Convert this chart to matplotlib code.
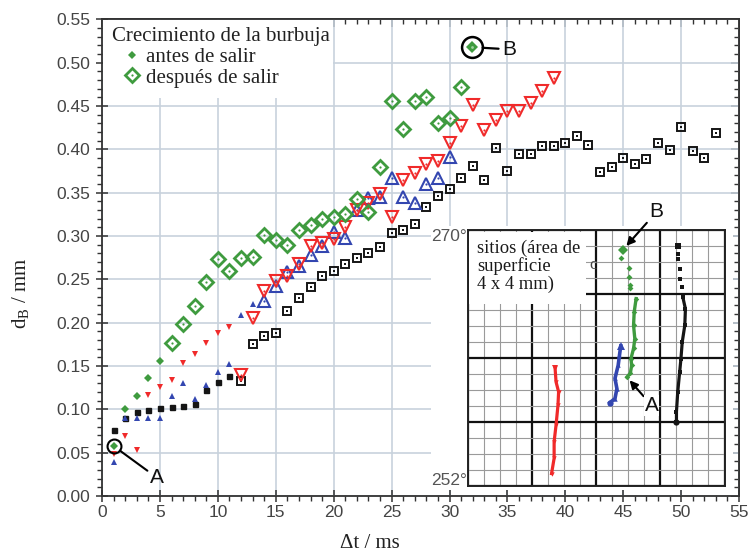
import matplotlib
matplotlib.use('Agg')
import matplotlib.pyplot as plt
from matplotlib.lines import Line2D
from matplotlib.patches import Rectangle
from matplotlib.ticker import MultipleLocator, NullFormatter, FormatStrFormatter

# ---------------- data (main plot) ----------------
t_black_before = [1, 2, 3, 4, 5, 6, 7, 8, 9, 10, 11]
d_black_before = [0.076, 0.090, 0.097, 0.099, 0.101, 0.1025, 0.104, 0.106, 0.122, 0.131, 0.139]
t_black_after = list(range(12, 54))
d_black_after = [0.133, 0.175, 0.185, 0.188, 0.214, 0.229, 0.241, 0.254, 0.260, 0.268,
                 0.2745, 0.280, 0.287, 0.303, 0.3065, 0.314, 0.333, 0.346, 0.354, 0.367,
                 0.381, 0.365, 0.402, 0.375, 0.395, 0.395, 0.404, 0.404, 0.407, 0.4155,
                 0.405, 0.374, 0.380, 0.390, 0.383, 0.3886, 0.407, 0.399, 0.426, 0.398,
                 0.3905, 0.4186]

t_blue_before = [1, 2, 3, 4, 5, 6, 7, 8, 9, 10, 11, 12, 13]
d_blue_before = [0.039, 0.090, 0.090, 0.090, 0.090, 0.115, 0.130, 0.1125, 0.128, 0.143,
                 0.1525, 0.209, 0.221]
t_blue_after = list(range(14, 31))
d_blue_after = [0.2247, 0.242, 0.259, 0.265, 0.2776, 0.288, 0.305, 0.2976, 0.330, 0.3437,
                0.3456, 0.3667, 0.3456, 0.3387, 0.360, 0.3667, 0.3917]

t_red_before = [1, 2, 3, 4, 5, 6, 7, 8, 9, 10, 11]
d_red_before = [0.048, 0.069, 0.0526, 0.117, 0.1256, 0.134, 0.154, 0.164, 0.176, 0.188, 0.195]
t_red_after = list(range(12, 40))
d_red_after = [0.140, 0.2054, 0.236, 0.2485, 0.2535, 0.2677, 0.289, 0.2918, 0.297, 0.310,
               0.330, 0.3387, 0.349, 0.3214, 0.365, 0.3725, 0.383, 0.3867, 0.407, 0.427,
               0.451, 0.422, 0.434, 0.444, 0.4447, 0.4535, 0.4677, 0.482]

t_green_before = [1, 2, 3, 4, 5]
d_green_before = [0.0576, 0.1006, 0.115, 0.1356, 0.156]
t_green_after = list(range(6, 32))
d_green_after = [0.177, 0.199, 0.219, 0.2465, 0.2734, 0.260, 0.2745, 0.276, 0.3015, 0.2957,
                 0.290, 0.307, 0.313, 0.3195, 0.3214, 0.325, 0.343, 0.328, 0.380, 0.456,
                 0.424, 0.456, 0.460, 0.430, 0.4366, 0.4724]
t_point_B = [31.9]
d_point_B = [0.518]

x_ticks = [0, 5, 10, 15, 20, 25, 30, 35, 40, 45, 50, 55]
y_ticks = [0.00, 0.05, 0.10, 0.15, 0.20, 0.25, 0.30, 0.35, 0.40, 0.45, 0.50, 0.55]

legend_title = 'Crecimiento de la burbuja'
legend_labels = ['antes de salir', 'después de salir']

# ---------------- data (inset: sites, 4 x 4 mm) ----------------
red_x = [1.30, 1.34, 1.34, 1.37, 1.40, 1.41, 1.37, 1.355]
red_y = [0.19, 0.43, 0.69, 0.95, 1.26, 1.47, 1.625, 1.84]
blue_x = [2.21, 2.29, 2.32, 2.29, 2.34, 2.36, 2.38]
blue_y = [1.30, 1.365, 1.52, 1.68, 1.885, 2.04, 2.19]
green_x = [2.475, 2.53, 2.55, 2.54, 2.58, 2.60, 2.58, 2.59, 2.62]
green_y = [1.70, 1.76, 1.885, 1.99, 2.15, 2.30, 2.51, 2.72, 2.93]
green_sparse_x = [2.52, 2.52, 2.51, 2.51, 2.39]
green_sparse_y = [3.09, 3.15, 3.27, 3.41, 3.56]
green_B_x = [2.41]
green_B_y = [3.69]
black_x = [3.25, 3.25, 3.27, 3.30, 3.32, 3.34, 3.38, 3.39, 3.35]
black_y = [0.99, 1.16, 1.47, 1.78, 1.99, 2.25, 2.51, 2.77, 2.95]
black_sparse_x = [3.34, 3.31, 3.30, 3.28, 3.28]
black_sparse_y = [3.11, 3.24, 3.40, 3.55, 3.63]
black_top_x = [3.28]
black_top_y = [3.76]
inset_text = 'sitios (área de\nsuperficie\n4 x 4 mm)'

# ---------------- style ----------------
GREEN = '#3f9b3f'
RED = '#f02a2a'
BLUE = '#3346b0'
BLACK = '#151515'
SERIF = 'Liberation Serif'
SANS = 'Liberation Sans'

plt.rcParams['font.family'] = [SANS, 'DejaVu Sans']

W, H = 752, 557
fig = plt.figure(figsize=(W / 100, H / 100), dpi=100)


def fx(px):
    return px / W


def fy(py):
    return 1 - py / H


ax = fig.add_axes([fx(102.1), fy(496), (739 - 102.1) / W, (496 - 19.4) / H])
ax.set_xlim(0, 55)
ax.set_ylim(0, 0.55)
ax.set_xticks(x_ticks)
ax.set_yticks(y_ticks)
ax.yaxis.set_major_formatter(FormatStrFormatter('%.2f'))
ax.xaxis.set_minor_locator(MultipleLocator(1))
ax.yaxis.set_minor_locator(MultipleLocator(0.01))
ax.set_axisbelow(True)
ax.grid(True, which='major', color='#c8d2dd', lw=1.2)
ax.tick_params(which='major', direction='inout', length=8, width=1.1, color='#333333',
               labelsize=12.5, labelcolor='#444444')
ax.tick_params(axis='x', which='major', pad=2.5)
ax.tick_params(axis='y', which='major', pad=4.5)
ax.tick_params(which='minor', direction='out', length=3.5, width=1.0, color='#333333')
for s in ax.spines.values():
    s.set_color('#333333')
    s.set_linewidth(1.3)

# inward ticks on top / right
sx = ax.secondary_xaxis('top')
sx.set_xticks(x_ticks)
sx.xaxis.set_minor_locator(MultipleLocator(1))
sx.xaxis.set_major_formatter(NullFormatter())
sx.tick_params(which='major', direction='in', length=6, width=1.1, color='#333333')
sx.tick_params(which='minor', direction='in', length=3.5, width=1.0, color='#333333')
sx.spines['top'].set_color('#333333')
sx.spines['top'].set_linewidth(1.3)
sy = ax.secondary_yaxis('right')
sy.set_yticks(y_ticks)
sy.yaxis.set_minor_locator(MultipleLocator(0.01))
sy.yaxis.set_major_formatter(NullFormatter())
sy.tick_params(which='major', direction='in', length=6, width=1.1, color='#333333')
sy.tick_params(which='minor', direction='in', length=3.5, width=1.0, color='#333333')
sy.spines['right'].set_color('#333333')
sy.spines['right'].set_linewidth(1.3)

# white patch behind inset labels and behind legend
ax.add_patch(Rectangle((fx(431), fy(490)), (733 - 431) / W, (490 - 226) / H,
                       transform=fig.transFigure, fc='white', ec='none', zorder=1))
ax.add_patch(Rectangle((fx(103), fy(98)), (333 - 103) / W, (98 - 20.5) / H,
                       transform=fig.transFigure, fc='white', ec='none', zorder=1))


def open_series(t, d, marker, color, ms, mew):
    ax.plot(t, d, ls='none', marker=marker, ms=ms, mfc='none', mec=color, mew=mew, zorder=3)
    ax.plot(t, d, ls='none', marker='s' if marker == 's' else 'o', ms=1.6, mfc=color,
            mec=color, mew=0, zorder=3)


# black squares
ax.plot(t_black_before, d_black_before, ls='none', marker='s', ms=3.6, color=BLACK, zorder=3)
open_series(t_black_after, d_black_after, 's', BLACK, 5.4, 1.4)
# blue up-triangles
ax.plot(t_blue_before, d_blue_before, ls='none', marker='^', ms=5.0, color=BLUE, mew=0, zorder=3)
open_series(t_blue_after, d_blue_after, '^', BLUE, 8.4, 1.5)
# red down-triangles
ax.plot(t_red_before, d_red_before, ls='none', marker='v', ms=5.0, color=RED, mew=0, zorder=3)
open_series(t_red_after, d_red_after, 'v', RED, 8.4, 1.5)
# green diamonds
ax.plot(t_green_before, d_green_before, ls='none', marker='D', ms=3.8, color=GREEN, mew=0, zorder=3)
open_series(t_green_after, d_green_after, 'D', GREEN, 7.2, 2.0)
ax.plot(t_point_B, d_point_B, ls='none', marker='D', ms=6.2, color=GREEN, mew=0, zorder=3)
ax.plot(t_point_B, d_point_B, ls='none', marker='o', ms=2.0, color='#9fd19f', mew=0, zorder=3)

# circles + labels A / B
ax.plot(t_green_before[:1], d_green_before[:1], ls='none', marker='o', ms=10, mfc='none',
        mec='k', mew=1.5, zorder=4)
ax.plot(t_point_B, d_point_B, ls='none', marker='o', ms=15, mfc='none', mec='k', mew=1.8, zorder=4)
ax.annotate('A', xy=(t_green_before[0], d_green_before[0]), xytext=(4.75, 0.021),
            ha='center', va='center', fontsize=15, color='#111111',
            arrowprops=dict(arrowstyle='-', lw=1.5, color='k', shrinkA=0, shrinkB=5.5))
ax.annotate('B', xy=(t_point_B[0], d_point_B[0]), xytext=(35.2, 0.5154),
            ha='center', va='center', fontsize=15, color='#111111',
            arrowprops=dict(arrowstyle='-', lw=1.6, color='k', shrinkA=1, shrinkB=8))

# legend
h_before = Line2D([], [], ls='none', marker='D', ms=3.8, color=GREEN, mew=0)
h_after = Line2D([], [], ls='none', marker='D', ms=7.2, mfc='none', mec=GREEN, mew=2.0)
h_dot = Line2D([], [], ls='none', marker='o', ms=1.6, color=GREEN, mew=0)
leg = ax.legend([h_before, (h_after, h_dot)], legend_labels, loc='upper left',
                bbox_to_anchor=(fx(121.3), fy(47.5)), bbox_transform=fig.transFigure,
                frameon=False, borderpad=0, borderaxespad=0, handlelength=1.0,
                handletextpad=0.2, labelspacing=0.05, prop={'family': SERIF, 'size': 15})
for txt in leg.get_texts():
    txt.set_color('#222222')
fig.text(fx(112), fy(37), legend_title, family=SERIF, fontsize=15, color='#222222',
         ha='left', va='center')

# axis labels
fig.text(fx(21), fy(293), r'd$_{\mathregular{B}}$ / mm', family=SERIF, fontsize=15,
         color='#222222', rotation=90, ha='center', va='center')
fig.text(fx(370), fy(544), 'Δt / ms', family=SERIF, fontsize=15, color='#222222',
         ha='center', va='center')

# ---------------- inset ----------------
ax_in = fig.add_axes([fx(468.3), fy(485.7), 256.2 / W, 255.4 / H])
ax_in.set_zorder(5)
ax_in.set_xlim(0, 4)
ax_in.set_ylim(0, 4)
ax_in.xaxis.set_major_locator(MultipleLocator(1))
ax_in.yaxis.set_major_locator(MultipleLocator(1))
ax_in.xaxis.set_minor_locator(MultipleLocator(0.25))
ax_in.yaxis.set_minor_locator(MultipleLocator(0.25))
ax_in.set_axisbelow(True)
ax_in.grid(True, which='minor', color='#9a9a9a', lw=0.8)
ax_in.grid(True, which='major', color='#111111', lw=1.6)
ax_in.tick_params(which='both', length=0, labelleft=False, labelbottom=False)
for s in ax_in.spines.values():
    s.set_color('#222222')
    s.set_linewidth(1.4)

ax_in.plot(red_x, red_y, color=RED, lw=2.3, marker='v', ms=3.2, mew=0, zorder=3)
ax_in.plot(red_x[-1:], red_y[-1:], ls='none', marker='v', ms=5.0, color=RED, mew=0, zorder=3)
ax_in.plot(blue_x, blue_y, color=BLUE, lw=2.6, marker='^', ms=3.2, mew=0, zorder=3)
ax_in.plot(blue_x[-1:], blue_y[-1:], ls='none', marker='^', ms=5.5, color=BLUE, mew=0, zorder=3)
ax_in.plot(blue_x[:1], blue_y[:1], ls='none', marker='o', ms=4.5, color=BLUE, mew=0, zorder=3)
ax_in.plot(green_x, green_y, color=GREEN, lw=2.4, marker='D', ms=2.8, mew=0, zorder=3)
ax_in.plot(green_sparse_x, green_sparse_y, ls='none', marker='D', ms=3.0, color=GREEN, mew=0, zorder=3)
ax_in.plot(green_B_x, green_B_y, ls='none', marker='D', ms=5.2, color=GREEN, mew=0, zorder=3)
ax_in.plot(black_x, black_y, color=BLACK, lw=2.3, marker='s', ms=2.6, mew=0, zorder=3)
ax_in.plot(black_x[:1], black_y[:1], ls='none', marker='o', ms=4.5, color=BLACK, mew=0, zorder=3)
ax_in.plot(black_sparse_x, black_sparse_y, ls='none', marker='s', ms=2.8, color=BLACK, mew=0, zorder=3)
ax_in.plot(black_top_x, black_top_y, ls='none', marker='s', ms=4.2, color=BLACK, mew=0, zorder=3)

ax_in.add_patch(Rectangle((0.004, 0.713), 0.457, 0.28, transform=ax_in.transAxes,
                          fc='white', ec='none', zorder=4))
ax_in.text(0.474, 0.863, 'c', transform=ax_in.transAxes, family=SERIF, fontsize=12,
           color='#444444', ha='left', va='center', zorder=3.5)
ax_in.text(0.033, 0.965, inset_text, transform=ax_in.transAxes, family=SERIF,
           fontsize=13.4, color='#1a1a1a', ha='left', va='top', linespacing=1.05, zorder=5)
ax_in.text(-0.006, 0.974, '270°', transform=ax_in.transAxes, fontsize=12.5,
           color='#555555', ha='right', va='center')
ax_in.text(-0.006, 0.022, '252°', transform=ax_in.transAxes, fontsize=12.5,
           color='#555555', ha='right', va='center')

ax_in.annotate('A', xy=(green_x[0], green_y[0]), xytext=(2.86, 1.26), ha='center',
               va='center', fontsize=15, color='#111111', zorder=6,
               bbox=dict(boxstyle='square,pad=0.05', fc='white', ec='none'),
               arrowprops=dict(arrowstyle='-|>', lw=1.5, color='k', mutation_scale=12,
                               shrinkA=0, shrinkB=3))
ax_in.annotate('B', xy=(green_B_x[0], green_B_y[0]), xytext=(2.94, 4.29), ha='center',
               va='center', fontsize=15, color='#111111', zorder=6, annotation_clip=False,
               arrowprops=dict(arrowstyle='-|>', lw=1.5, color='k', mutation_scale=12,
                               shrinkA=0, shrinkB=4))

fig.savefig('out.png', dpi=100)
